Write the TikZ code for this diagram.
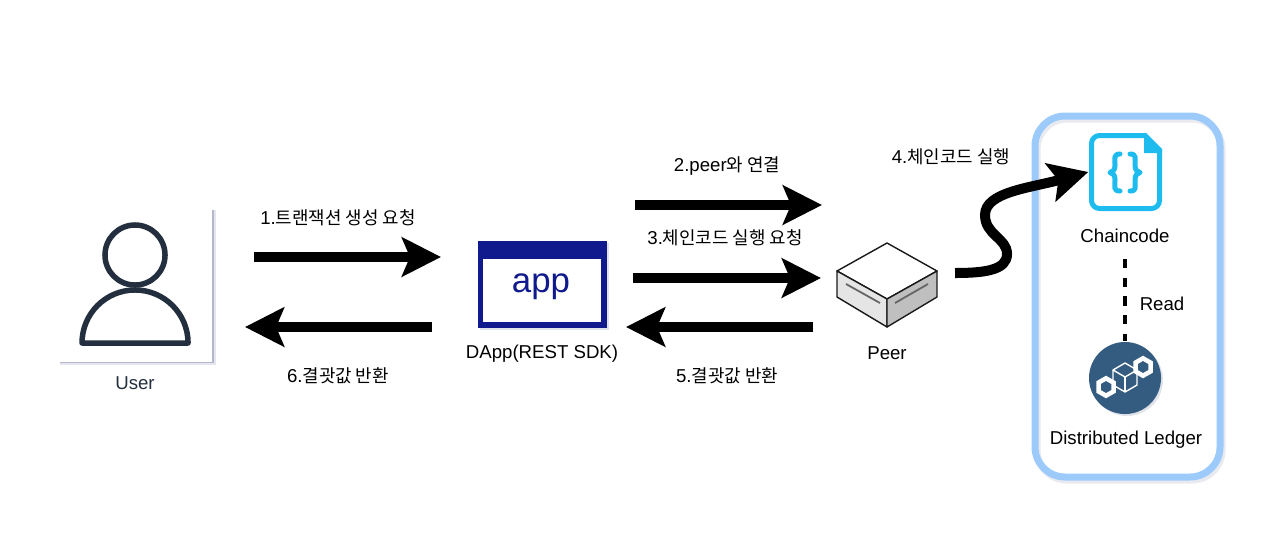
\documentclass[tikz,border=0pt]{standalone}
\usepackage{fontspec}
\setmainfont{Liberation Sans}
\newfontfamily\kr[Scale=0.96]{Noto Sans CJK KR}
\usepackage{xcolor}
\usepackage{tikz}
\usetikzlibrary{arrows.meta,positioning}
\definecolor{userdark}{HTML}{232F3E}
\definecolor{appnavy}{HTML}{101A8C}
\definecolor{boxblue}{HTML}{9CCBFB}
\definecolor{codecyan}{HTML}{1DBBEE}
\definecolor{ledgerblue}{HTML}{345C80}
\definecolor{shadowgray}{HTML}{B4B8CC}
\tikzset{
  label/.style={inner sep=0pt,font=\fontsize{5.3}{6.4}\selectfont},
  bigarrow/.style={-{Stealth[length=3.9mm,width=3.9mm,inset=0.8mm]},line width=1mm},
  hexline/.style={draw=white,line width=0.045cm},
  cubeline/.style={draw=white,line width=0.014cm},
  braceline/.style={draw=codecyan,line width=0.05cm,line cap=round,line join=round}
}

\begin{document}
\begin{tikzpicture}[x=0.01cm,y=-0.01cm]
        \useasboundingbox (0,0) rectangle (1280,539);
        % user
        \fill[shadowgray,opacity=0.35] (60,210) rectangle (216,365);
        \fill[shadowgray] (60,210) rectangle (214,363);
        \node[fill=white,minimum width=1.54cm,minimum height=1.53cm,inner sep=0pt] (userbox) at (135,285) {};
        \node[circle,draw=userdark,line width=0.055cm,fill=white,minimum size=0.6cm,inner sep=0pt] (userhead) at (135,255) {};
        \draw[draw=userdark,line width=0.055cm,line join=round] (82,343) arc[start angle=180,end angle=0,radius=0.53cm] -- cycle;
        \node[label,text=userdark] (userlabel) at (135,383) {User};
        % dapp
        \fill[shadowgray,opacity=0.4] (480,243) rectangle (609,330);
        \node[fill=appnavy,minimum width=1.29cm,minimum height=0.87cm,inner sep=0pt] (appbox) at (542.5,284.5) {};
        \node[fill=white,minimum width=1.18cm,minimum height=0.63cm,inner sep=0pt] (appinner) at (542,290.5) {};
        \node[inner sep=0pt,text=appnavy,font=\fontsize{9.9}{11}\selectfont] (applabel) at (541,287) {app};
        \node[label] (dapplabel) at (542,354) {DApp(REST SDK)};
        % peer
        \draw[draw=black!90,line width=0.014cm,fill=white,line join=round] (887,243)--(937,271)--(887,299)--(837,271)--cycle;
        \draw[draw=black!90,line width=0.014cm,fill=black!10,line join=round] (837,271)--(887,299)--(887,327)--(837,297)--cycle;
        \draw[draw=black!90,line width=0.014cm,fill=black!25,line join=round] (937,271)--(887,299)--(887,327)--(937,297)--cycle;
        \draw[draw=black!60,line width=0.018cm] (846,284)--(880,303);
        \draw[draw=black!60,line width=0.018cm] (895,303)--(928,284);
        \node[label] (peerlabel) at (887,353) {Peer};
        % network box
        \draw[draw=shadowgray,opacity=0.3,line width=0.07cm,rounded corners=0.3cm] (1037,119) rectangle (1222,480);
        \draw[draw=boxblue,line width=0.07cm,rounded corners=0.3cm] (1035,116) rectangle (1220,477);
        % chaincode
        \node[inner sep=0pt,minimum width=0.73cm,minimum height=0.78cm] (chaincode) at (1125.5,172) {};
        \draw[draw=codecyan,line width=0.05cm,rounded corners=0.08cm,line join=round] (1146,135.5) -- (1091.5,135.5) -- (1091.5,208.5) -- (1159.5,208.5) -- (1159.5,150);
        \fill[codecyan] (1146,133) -- (1162,149) -- (1162,153) -- (1144,153) -- (1144,133) -- cycle;
        \draw[braceline] (1120,154) .. controls (1113,154) and (1115,159) .. (1115,165) .. controls (1115,170) and (1113,172) .. (1110,172.5) .. controls (1113,173) and (1115,175) .. (1115,180) .. controls (1115,187) and (1113,191) .. (1120,191);
        \draw[braceline] (1130,154) .. controls (1137,154) and (1135,159) .. (1135,165) .. controls (1135,170) and (1137,172) .. (1140,172.5) .. controls (1137,173) and (1135,175) .. (1135,180) .. controls (1135,187) and (1137,191) .. (1130,191);
        \node[label] (chaincodetext) at (1125,236) {Chaincode};
        % ledger
        \fill[shadowgray,opacity=0.4] (1127,380) circle[radius=0.36cm];
        \node[circle,fill=ledgerblue,minimum size=0.72cm,inner sep=0pt] (ledger) at (1125,378) {};
        \draw[hexline] (1143,358.3)--(1150.5,362.6)--(1150.5,371.4)--(1143,375.7)--(1135.5,371.4)--(1135.5,362.6)--cycle;
        \draw[hexline] (1106,378.3)--(1113.5,382.6)--(1113.5,391.4)--(1106,395.7)--(1098.5,391.4)--(1098.5,382.6)--cycle;
        \draw[cubeline,line join=round] (1125,363)--(1137,370)--(1137,385)--(1125,392)--(1113,385)--(1113,370)--cycle;
        \draw[cubeline] (1113,370)--(1125,377)--(1137,370);
        \draw[cubeline] (1125,377)--(1125,392);
        \node[label] (ledgerlabel) at (1126,440) {Distributed Ledger};
        % read link
        \draw[line width=0.04cm,dash pattern=on 0.093cm off 0.093cm,shorten <=0.155cm] (chaincodetext.south) -- (ledger.north);
        \node[label] (readlabel) at (1162,304) {Read};
        % arrows
        \coordinate (createfrom) at (254,257);
        \coordinate (createto) at (441,257);
        \coordinate (resultfrom) at (432,327);
        \coordinate (resultto) at (245,327);
        \coordinate (connectfrom) at (635,205);
        \coordinate (connectto) at (822,205);
        \coordinate (callfrom) at (633,278);
        \coordinate (callto) at (821,278);
        \coordinate (returnfrom) at (813,327);
        \coordinate (returnto) at (626,327);
        \coordinate (runfrom) at (955,273);
        \draw[bigarrow] (createfrom) -- (createto);
        \draw[bigarrow] (resultfrom) -- (resultto);
        \draw[bigarrow] (connectfrom) -- (connectto);
        \draw[bigarrow] (callfrom) -- (callto);
        \draw[bigarrow] (returnfrom) -- (returnto);
        \draw[bigarrow] (runfrom) .. controls (985,273) and (1007,270) .. (1007,254)
              .. controls (1007,238) and (985,235) .. (985,215)
              .. controls (985,192) and (1030,188) .. (chaincode.west);
        % arrow labels
        \node[label] (createlabel) at (338,218) {1.{\kr 트랜잭션 생성 요청}};
        \node[label] (connectlabel) at (727,166) {2.peer{\kr 와 연결}};
        \node[label] (calllabel) at (725,238) {3.{\kr 체인코드 실행 요청}};
        \node[label] (runlabel) at (951,157) {4.{\kr 체인코드 실행}};
        \node[label] (returnlabel) at (727,376) {5.{\kr 결괏값 반환}};
        \node[label] (resultlabel) at (338,376) {6.{\kr 결괏값 반환}};
      \end{tikzpicture}
\end{document}
